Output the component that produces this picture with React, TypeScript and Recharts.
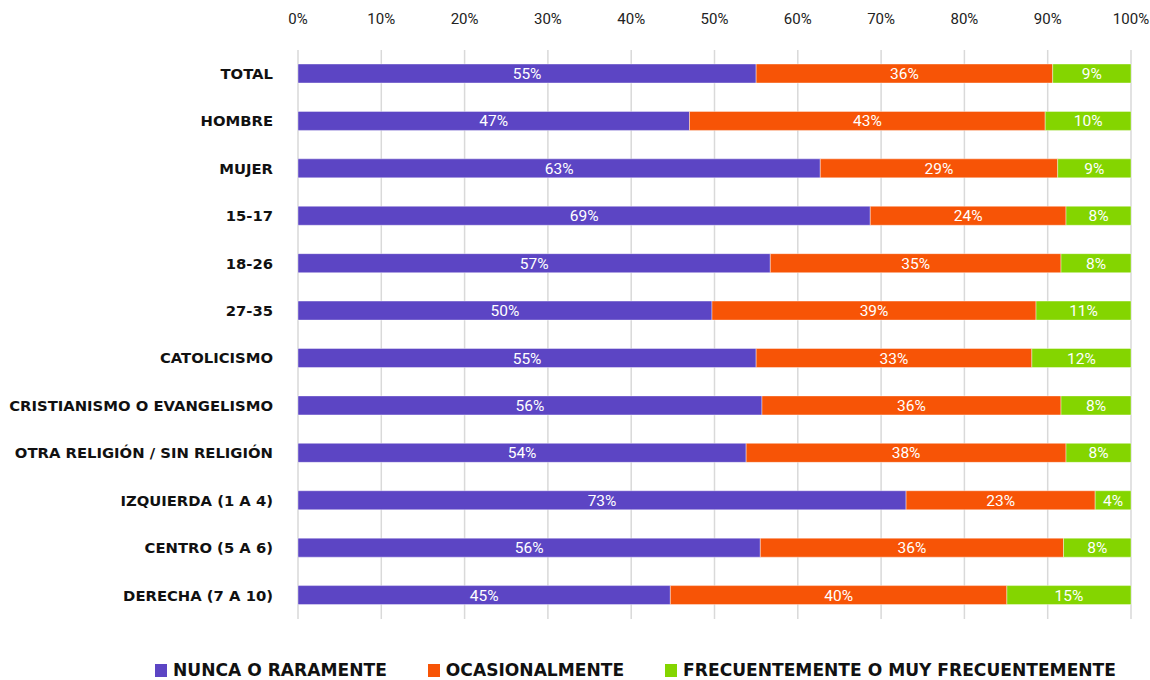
import React from "react";
import { BarChart, Bar, XAxis, YAxis, CartesianGrid, LabelList, Legend } from "recharts";

const categories = [
  "TOTAL",
  "HOMBRE",
  "MUJER",
  "15-17",
  "18-26",
  "27-35",
  "CATOLICISMO",
  "CRISTIANISMO O EVANGELISMO",
  "OTRA RELIGIÓN / SIN RELIGIÓN",
  "IZQUIERDA (1 A 4)",
  "CENTRO (5 A 6)",
  "DERECHA (7 A 10)",
];
const nunca = [55.0, 47.0, 62.7, 68.7, 56.7, 49.7, 55.0, 55.7, 53.8, 73.0, 55.5, 44.7];
const ocasional = [35.6, 42.7, 28.5, 23.5, 34.9, 38.9, 33.1, 35.9, 38.4, 22.7, 36.4, 40.4];
const frecuente = [9.4, 10.3, 8.8, 7.8, 8.4, 11.4, 11.9, 8.4, 7.8, 4.3, 8.1, 14.9];
const xTicks = [0, 10, 20, 30, 40, 50, 60, 70, 80, 90, 100];

const seriesNames = ["NUNCA O RARAMENTE", "OCASIONALMENTE", "FRECUENTEMENTE O MUY FRECUENTEMENTE"];
const seriesKeys = ["nunca", "ocasional", "frecuente"];
const seriesColors = ["#5C45C4", "#F75406", "#84D500"];

const data = categories.map((c, i) => ({
  cat: c,
  nunca: nunca[i],
  ocasional: ocasional[i],
  frecuente: frecuente[i],
}));

const catFont = "'DejaVu Sans', Verdana, sans-serif";

const CustomLegend = () => (
  <div style={{ display: "flex", alignItems: "center", paddingLeft: 155, height: 16 }}>
    {seriesNames.map((n, i) => (
      <div key={n} style={{ display: "flex", alignItems: "center", marginRight: 41 }}>
        <div style={{ width: 12, height: 13, background: seriesColors[i], marginRight: 6 }} />
        <span
          style={{
            fontFamily: catFont,
            fontWeight: 700,
            fontSize: 17.1,
            color: "#111",
            lineHeight: "16px",
            whiteSpace: "nowrap",
          }}
        >
          {n}
        </span>
      </div>
    ))}
  </div>
);

export default function App() {
  return (
    <div style={{ position: "absolute", left: 0, top: 0, width: 1150, height: 680, background: "#fff" }}>
      <BarChart
        width={1150}
        height={680}
        data={data}
        layout="vertical"
        margin={{ top: 0, right: 19, bottom: 45, left: 0 }}
        barCategoryGap={0}
      >
        <CartesianGrid horizontal={false} vertical={true} stroke="#d9d9d9" strokeWidth={1.5} />
        <XAxis
          type="number"
          orientation="top"
          domain={[0, 100]}
          ticks={xTicks}
          height={50}
          tickSize={0}
          tickMargin={26}
          axisLine={false}
          tickLine={false}
          tickFormatter={(v: number) => `${v}%`}
          tick={{ fill: "#222", fontSize: 15, fontFamily: "Roboto, sans-serif" }}
          interval={0}
        />
        <YAxis
          type="category"
          dataKey="cat"
          width={298}
          tickSize={0}
          tickMargin={25}
          axisLine={false}
          tickLine={false}
          interval={0}
          tick={{ fill: "#111", fontSize: 14.8, fontWeight: 700, fontFamily: catFont }}
        />
        <Legend
          verticalAlign="bottom"
          content={() => <CustomLegend />}
          wrapperStyle={{ top: 662, bottom: "auto", left: 0, width: 1150 }}
        />
        {seriesKeys.map((k, i) => (
          <Bar
            key={k}
            dataKey={k}
            name={seriesNames[i]}
            stackId="a"
            fill={seriesColors[i]}
            stroke="rgba(255,255,255,0.5)"
            strokeWidth={0.8}
            barSize={19}
            isAnimationActive={false}
          >
            <LabelList
              dataKey={k}
              position="center"
              fill="#fff"
              fontSize={15.5}
              fontFamily="Roboto, sans-serif"
              formatter={(v: number) => `${Math.round(v)}%`}
            />
          </Bar>
        ))}
      </BarChart>
    </div>
  );
}
